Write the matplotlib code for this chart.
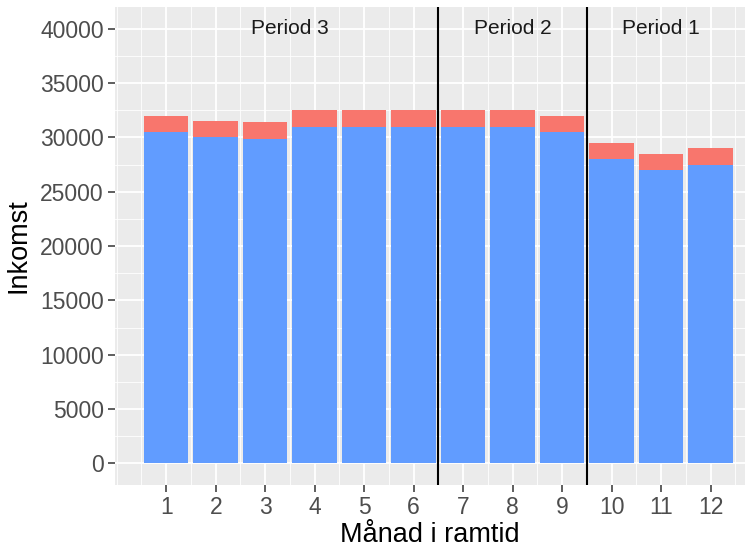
import numpy as np
import matplotlib.pyplot as plt

plt.rcParams['font.family'] = ['Liberation Sans', 'DejaVu Sans']

# data
manad = np.arange(1, 13)
bas = [30500, 30000, 29900, 31000, 31000, 31000, 31000, 31000, 30500, 28000, 27000, 27500]
tillagg = [1500, 1500, 1500, 1500, 1500, 1500, 1500, 1500, 1500, 1500, 1500, 1500]
perioder = ["Period 3", "Period 2", "Period 1"]
period_x = [3.5, 8, 11]
granser = [6.5, 9.5]

fig = plt.figure(figsize=(7.55, 5.48), dpi=100)
ax = fig.add_axes([0.152, 0.115, 0.835, 0.872])
ax.set_facecolor('#EBEBEB')

ax.bar(manad, bas, width=0.9, color='#619CFF', zorder=3)
ax.bar(manad, tillagg, bottom=bas, width=0.9, color='#F8766D', zorder=3)

for g in granser:
    ax.axvline(g, color='black', lw=1.5, zorder=4)
for namn, px in zip(perioder, period_x):
    ax.text(px, 40000, namn, ha='center', va='center', fontsize=15, color='#1A1A1A', zorder=5)

ax.set_xlim(-0.04, 12.7)
ax.set_ylim(-2000, 42000)
ax.set_xticks(manad)
ax.set_yticks(np.arange(0, 40001, 5000))
ax.set_xticks(np.arange(0, 13, 0.5), minor=True)
ax.set_yticks(np.arange(2500, 40000, 5000), minor=True)
ax.grid(which='major', color='white', lw=1.3, zorder=0)
ax.grid(which='minor', color='white', lw=0.6, zorder=0)
ax.set_axisbelow(True)
for s in ax.spines.values():
    s.set_visible(False)
ax.tick_params(which='major', length=5, width=1.1, color='#333333', labelcolor='#4D4D4D', labelsize=16.5, pad=3)
ax.tick_params(which='minor', length=0)

ax.set_xlabel('Månad i ramtid', fontsize=19.5, labelpad=2)
ax.set_ylabel('Inkomst', fontsize=19.5, labelpad=6)

fig.savefig('out.png', dpi=100)
